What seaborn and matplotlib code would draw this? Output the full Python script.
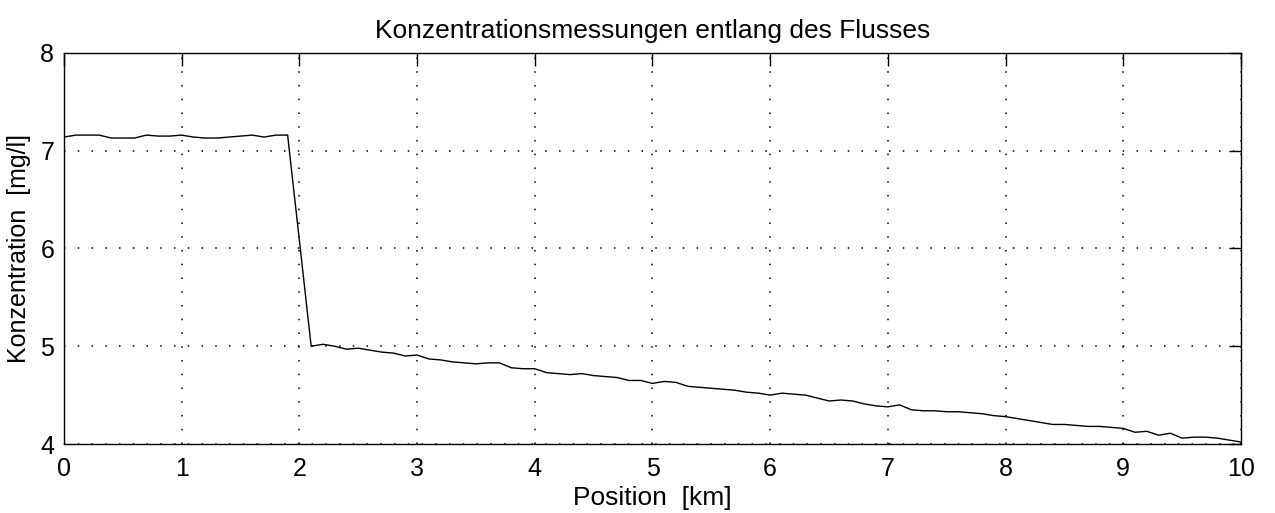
import numpy as np
import pandas as pd
import matplotlib
matplotlib.use("Agg")
import matplotlib.pyplot as plt
import seaborn as sns

# --- Daten ---
position_km = [
    0.0, 0.1, 0.2, 0.3, 0.4, 0.5, 0.6, 0.7, 0.8, 0.9,
    1.0, 1.1, 1.2, 1.3, 1.4, 1.5, 1.6, 1.7, 1.8, 1.9,
    2.1, 2.2, 2.3, 2.4, 2.5, 2.6, 2.7, 2.8, 2.9,
    3.0, 3.1, 3.2, 3.3, 3.4, 3.5, 3.6, 3.7, 3.8, 3.9,
    4.0, 4.1, 4.2, 4.3, 4.4, 4.5, 4.6, 4.7, 4.8, 4.9,
    5.0, 5.1, 5.2, 5.3, 5.4, 5.5, 5.6, 5.7, 5.8, 5.9,
    6.0, 6.1, 6.2, 6.3, 6.4, 6.5, 6.6, 6.7, 6.8, 6.9,
    7.0, 7.1, 7.2, 7.3, 7.4, 7.5, 7.6, 7.7, 7.8, 7.9,
    8.0, 8.1, 8.2, 8.3, 8.4, 8.5, 8.6, 8.7, 8.8, 8.9,
    9.0, 9.1, 9.2, 9.3, 9.4, 9.5, 9.6, 9.7, 9.8, 9.9,
    10.0,
]
konzentration = [
    7.14, 7.16, 7.16, 7.16, 7.13, 7.13, 7.13, 7.16, 7.15, 7.15,
    7.16, 7.14, 7.13, 7.13, 7.14, 7.15, 7.16, 7.14, 7.16, 7.16,
    5.00, 5.02, 5.00, 4.97, 4.98, 4.96, 4.94, 4.93, 4.90,
    4.91, 4.87, 4.86, 4.84, 4.83, 4.82, 4.83, 4.83, 4.78, 4.77,
    4.77, 4.73, 4.72, 4.71, 4.72, 4.70, 4.69, 4.68, 4.65, 4.65,
    4.62, 4.64, 4.63, 4.59, 4.58, 4.57, 4.56, 4.55, 4.53, 4.52,
    4.50, 4.52, 4.51, 4.50, 4.47, 4.44, 4.45, 4.44, 4.41, 4.39,
    4.38, 4.40, 4.35, 4.34, 4.34, 4.33, 4.33, 4.32, 4.31, 4.29,
    4.28, 4.26, 4.24, 4.22, 4.20, 4.20, 4.19, 4.18, 4.18, 4.17,
    4.16, 4.12, 4.13, 4.09, 4.11, 4.06, 4.07, 4.07, 4.06, 4.04,
    4.02,
]
x_ticks = [0, 1, 2, 3, 4, 5, 6, 7, 8, 9, 10]
y_ticks = [4, 5, 6, 7, 8]

df = pd.DataFrame({"Position": position_km, "Konzentration": konzentration})

# --- Stil (MATLAB-artig) ---
sns.set_theme(style="white")
plt.rcParams["font.family"] = ["Liberation Sans", "DejaVu Sans"]
plt.rcParams["xtick.direction"] = "in"
plt.rcParams["ytick.direction"] = "in"
plt.rcParams["text.color"] = "black"
plt.rcParams["axes.labelcolor"] = "black"
plt.rcParams["xtick.color"] = "black"
plt.rcParams["ytick.color"] = "black"

fig = plt.figure(figsize=(12.75, 5.13), dpi=100)
ax = fig.add_axes([0.0502, 0.1345, 0.9231, 0.7622])

sns.lineplot(data=df, x="Position", y="Konzentration", color="black",
             linewidth=1.0, ax=ax)

ax.set_xlim(0, 10)
ax.set_ylim(4, 8)
ax.set_xticks(x_ticks)
ax.set_yticks(y_ticks)
ax.tick_params(axis="both", which="both", labelsize=18, length=9, width=1,
               color="black", labelcolor="black", top=True, right=True)
ax.tick_params(axis="x", pad=9)
ax.tick_params(axis="y", pad=7)
ax.grid(True, color="black", linestyle=(0, (1, 8)), linewidth=1.1)

for s in ax.spines.values():
    s.set_color("black")
    s.set_linewidth(1.0)

ax.set_title("Konzentrationsmessungen entlang des Flusses", fontsize=19,
             pad=11, color="black")
ax.set_xlabel("Position  [km]", fontsize=19, labelpad=4, color="black")
ax.set_ylabel("Konzentration  [mg/l]", fontsize=18, labelpad=7, color="black")

fig.savefig("out.png", dpi=100)
